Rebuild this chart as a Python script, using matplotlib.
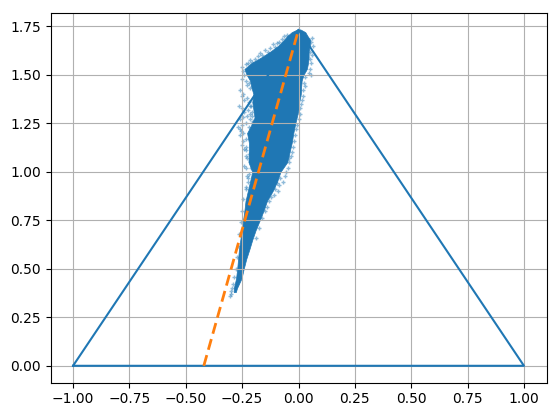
import matplotlib
matplotlib.use('Agg')
import matplotlib.pyplot as plt

# triangle outline and the dashed line
tri_x = [-1, 1, 0, -1]
tri_y = [0, 0, 1.732, 0]
dash_x = [-0.42, 0]
dash_y = [0, 1.732]

# outline of the dense part of the cloud
body_y = [1.734, 1.72, 1.70, 1.68, 1.65, 1.62, 1.59, 1.56, 1.53, 1.50, 1.47, 1.44, 1.40, 1.36, 1.32, 1.28,
          1.24, 1.20, 1.15, 1.10, 1.05, 1.00, 0.95, 0.90, 0.85, 0.80, 0.75, 0.70, 0.65, 0.60, 0.55, 0.50,
          0.45, 0.40, 0.38]
body_left = [-0.005, -0.03, -0.05, -0.065, -0.09, -0.125, -0.165, -0.21, -0.24, -0.23, -0.215, -0.21, -0.2,
             -0.205, -0.2, -0.195, -0.21, -0.228, -0.22, -0.22, -0.222, -0.205, -0.215, -0.225, -0.235, -0.24,
             -0.246, -0.252, -0.258, -0.264, -0.268, -0.272, -0.277, -0.287, -0.287]
body_right = [0.008, 0.03, 0.04, 0.052, 0.05, 0.045, 0.045, 0.042, 0.037, 0.022, 0.014, 0.012, 0.01,
              0.003, 0.0, -0.008, -0.016, -0.023, -0.03, -0.04, -0.05, -0.08, -0.095, -0.115, -0.14, -0.155,
              -0.172, -0.19, -0.205, -0.218, -0.232, -0.243, -0.253, -0.273, -0.278]

# single points around the edge
stray_x = [-0.25, -0.245, -0.235, -0.225, -0.215, -0.205, -0.195, -0.18, -0.17, -0.16, -0.15, -0.135, -0.125, -0.115,
           -0.105, -0.095, -0.085, -0.075, -0.065, -0.05, 0.06, 0.065, 0.055, 0.05, 0.06, 0.055, 0.05, 0.05,
           0.045, 0.055, 0.03, 0.025, 0.028, 0.02, 0.02, 0.015, 0.012, 0.008, 0.005, 0.0, -0.005, -0.01, -0.015,
           -0.02, -0.025, -0.03, -0.035, -0.042, -0.045, -0.055, -0.06, -0.07, -0.04, -0.08, -0.085, -0.095, -0.09,
           -0.105, -0.11, -0.12, -0.13, -0.14, -0.15, -0.16, -0.175, -0.19,
           -0.24, -0.25, -0.235, -0.23, -0.22, -0.215, -0.26, -0.25, -0.245, -0.24, -0.23, -0.22, -0.262, -0.25,
           -0.24, -0.225, -0.215, -0.21, -0.26, -0.245, -0.23, -0.215, -0.205, -0.2, -0.27, -0.26, -0.25, -0.235,
           -0.22, -0.205, -0.26, -0.245, -0.235, -0.25, -0.24, -0.232, -0.235, -0.228, -0.218, -0.24, -0.232, -0.228,
           -0.235, -0.245, -0.25, -0.255, -0.262, -0.268, -0.272, -0.278, -0.285, -0.29, -0.295, -0.3, -0.305, -0.298,
           -0.225, -0.22, -0.21, -0.205, -0.215, -0.235, -0.245, -0.255, -0.225, -0.232]
stray_y = [1.54, 1.52, 1.555, 1.56, 1.575, 1.565, 1.58, 1.595, 1.61, 1.60, 1.63, 1.62, 1.64, 1.66,
           1.645, 1.665, 1.67, 1.685, 1.70, 1.705, 1.69, 1.65, 1.67, 1.62, 1.60, 1.56, 1.58, 1.53,
           1.51, 1.50, 1.49, 1.46, 1.44, 1.42, 1.39, 1.37, 1.35, 1.33, 1.30, 1.27, 1.24, 1.22, 1.19,
           1.16, 1.13, 1.10, 1.08, 1.05, 1.02, 1.00, 0.98, 0.95, 1.07, 0.97, 0.93, 0.94, 0.90,
           0.91, 0.88, 0.87, 0.85, 0.82, 0.80, 0.76, 0.71, 0.66,
           1.50, 1.48, 1.47, 1.45, 1.46, 1.43, 1.42, 1.39, 1.40, 1.37, 1.38, 1.36, 1.34, 1.33,
           1.31, 1.32, 1.30, 1.34, 1.27, 1.28, 1.29, 1.27, 1.29, 1.26, 1.23, 1.22, 1.24, 1.25,
           1.23, 1.25, 1.19, 1.20, 1.17, 1.14, 1.12, 1.13, 1.08, 1.07, 1.09, 1.03, 1.02, 0.98,
           0.92, 0.86, 0.80, 0.74, 0.68, 0.62, 0.56, 0.50, 0.46, 0.42, 0.40, 0.37, 0.36, 0.385,
           0.97, 0.99, 1.02, 1.31, 1.34, 1.11, 1.16, 1.21, 0.95, 0.91]

fig = plt.figure(figsize=(5.59, 4.16), dpi=100)
ax = fig.add_axes([50.5 / 559, 1 - 382.6 / 416, 496 / 559, 369.6 / 416])

ax.fill_betweenx(body_y, body_left, body_right, color='C0', lw=0.5, zorder=1)
ax.scatter(stray_x, stray_y, marker='+', s=8, linewidths=1.0, alpha=0.5, color='C0', zorder=1)
ax.plot(tri_x, tri_y, color='C0')
ax.plot(dash_x, dash_y, color='C1', linewidth=2, dashes=(4, 2))

ax.set_xlim(-1.1, 1.1)
ax.set_ylim(-0.0866, 1.8186)
ax.set_xticks([-1, -0.75, -0.5, -0.25, 0, 0.25, 0.5, 0.75, 1])
ax.set_xticklabels(['\u22121.00', '\u22120.75', '\u22120.50', '\u22120.25', '0.00', '0.25', '0.50', '0.75', '1.00'])
ax.set_yticks([0, 0.25, 0.5, 0.75, 1, 1.25, 1.5, 1.75])
ax.set_yticklabels(['0.00', '0.25', '0.50', '0.75', '1.00', '1.25', '1.50', '1.75'])
ax.grid(True)

plt.savefig('out.png', dpi=100)
